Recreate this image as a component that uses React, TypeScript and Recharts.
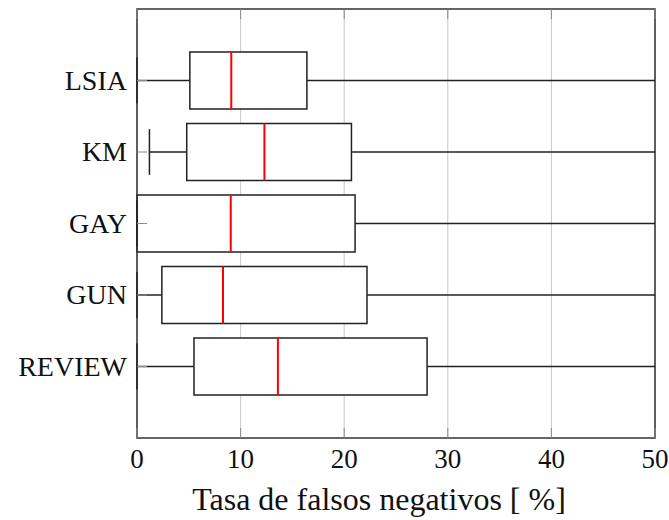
import React from 'react';
import { ComposedChart, XAxis, YAxis, CartesianGrid, ReferenceArea, ReferenceLine, Scatter, Label } from 'recharts';

// Box-plot statistics per method, listed top to bottom
const categories = ['LSIA', 'KM', 'GAY', 'GUN', 'REVIEW'];
const positions = [5, 4, 3, 2, 1];
const lowerWhisker = [0, 1.2, 0, 0, 0];
const lowerQuartile = [5.1, 4.8, 0, 2.4, 5.5];
const medians = [9.1, 12.3, 9.05, 8.3, 13.6];
const upperQuartile = [16.4, 20.7, 21.05, 22.2, 28.0];
const upperWhisker = [50, 50, 50, 50, 50];

const xTicks = [0, 10, 20, 30, 40, 50];
const X_MAX = 50;
const BOX_HALF = 0.4;
const CAP_HALF = 0.32;

const serif = '"Liberation Serif", "DejaVu Serif", serif';

const boxes = categories.map((name, i) => ({
  name,
  pos: positions[i],
  lo: lowerWhisker[i],
  q1: lowerQuartile[i],
  med: medians[i],
  q3: upperQuartile[i],
  hi: upperWhisker[i],
}));

const BottomTick = ({ x, y, payload }: any) => (
  <g>
    <line x1={x} y1={y} x2={x} y2={y - 10} stroke="#8a8a8a" strokeWidth={1} />
    <text x={x} y={y + 30} textAnchor="middle" fontFamily={serif} fontSize={27} fill="#111">
      {payload.value}
    </text>
  </g>
);

const TopTick = ({ x, y }: any) => (
  <line x1={x} y1={y} x2={x} y2={y + 10} stroke="#8a8a8a" strokeWidth={1} />
);

const LeftTick = ({ x, y, payload }: any) => {
  const idx = positions.indexOf(payload.value);
  return (
    <g>
      <line x1={x} y1={y} x2={x + 10} y2={y} stroke="#8a8a8a" strokeWidth={1} />
      <text x={x - 10} y={y + 9} textAnchor="end" fontFamily={serif} fontSize={28} fill="#111">
        {idx >= 0 ? categories[idx] : ''}
      </text>
    </g>
  );
};

const AxisTitle = ({ viewBox }: any) => (
  <text
    x={viewBox.x + viewBox.width / 2 - 17}
    y={viewBox.y + 72}
    textAnchor="middle"
    fontFamily={serif}
    fontSize={32}
    fill="#111"
  >
    Tasa de falsos negativos [ %]
  </text>
);

export default function App() {
  return (
    <div style={{ position: 'absolute', left: 0, top: 0, background: '#fff' }}>
      <ComposedChart width={669} height={520} margin={{ top: 8, right: 14, bottom: 0, left: 0 }}>
        <CartesianGrid horizontal={false} xAxisId="bottom" stroke="#c8c8c8" strokeWidth={1} />
        <XAxis
          xAxisId="bottom"
          dataKey="x"
          type="number"
          domain={[0, X_MAX]}
          allowDataOverflow
          ticks={xTicks}
          interval={0}
          height={82}
          axisLine={false}
          tickLine={false}
          tickSize={0}
          tickMargin={0}
          tick={<BottomTick />}
        >
          <Label content={<AxisTitle />} />
        </XAxis>
        <XAxis
          xAxisId="top"
          dataKey="x"
          orientation="top"
          type="number"
          domain={[0, X_MAX]}
          allowDataOverflow
          ticks={xTicks}
          interval={0}
          height={1}
          axisLine={false}
          tickLine={false}
          tickSize={0}
          tickMargin={0}
          tick={<TopTick />}
        />
        <YAxis
          dataKey="y"
          type="number"
          domain={[0, 6]}
          allowDataOverflow
          ticks={positions}
          interval={0}
          width={137}
          axisLine={false}
          tickLine={false}
          tickSize={0}
          tickMargin={0}
          tick={<LeftTick />}
        />

        {boxes.map((b) => (
          <ReferenceLine
            key={`wl-${b.name}`}
            xAxisId="bottom"
            segment={[{ x: b.lo, y: b.pos }, { x: b.q1, y: b.pos }]}
            stroke="#222"
            strokeWidth={1.5}
          />
        ))}
        {boxes.map((b) => (
          <ReferenceLine
            key={`wh-${b.name}`}
            xAxisId="bottom"
            segment={[{ x: b.q3, y: b.pos }, { x: b.hi, y: b.pos }]}
            stroke="#222"
            strokeWidth={1.5}
          />
        ))}
        {boxes.map((b) => (
          <ReferenceLine
            key={`cl-${b.name}`}
            xAxisId="bottom"
            segment={[{ x: b.lo, y: b.pos - CAP_HALF }, { x: b.lo, y: b.pos + CAP_HALF }]}
            stroke="#222"
            strokeWidth={1.5}
          />
        ))}
        {boxes
          .filter((b) => b.hi < X_MAX)
          .map((b) => (
            <ReferenceLine
              key={`ch-${b.name}`}
              xAxisId="bottom"
              segment={[{ x: b.hi, y: b.pos - CAP_HALF }, { x: b.hi, y: b.pos + CAP_HALF }]}
              stroke="#222"
              strokeWidth={1.5}
            />
          ))}
        {boxes.map((b) => (
          <ReferenceArea
            key={`box-${b.name}`}
            xAxisId="bottom"
            x1={b.q1}
            x2={b.q3}
            y1={b.pos - BOX_HALF}
            y2={b.pos + BOX_HALF}
            fill="#fff"
            fillOpacity={1}
            stroke="#222"
            strokeWidth={1.5}
          />
        ))}
        {boxes.map((b) => (
          <ReferenceLine
            key={`med-${b.name}`}
            xAxisId="bottom"
            segment={[{ x: b.med, y: b.pos - BOX_HALF }, { x: b.med, y: b.pos + BOX_HALF }]}
            stroke="#ff0000"
            strokeWidth={2}
          />
        ))}
        <Scatter
          xAxisId="bottom"
          data={boxes.map((b) => ({ x: b.med, y: b.pos }))}
          shape={() => <g />}
          isAnimationActive={false}
        />
        <ReferenceArea
          xAxisId="bottom"
          x1={0}
          x2={X_MAX}
          y1={0}
          y2={6}
          fill="none"
          stroke="#333"
          strokeWidth={1.5}
        />
      </ComposedChart>
    </div>
  );
}
